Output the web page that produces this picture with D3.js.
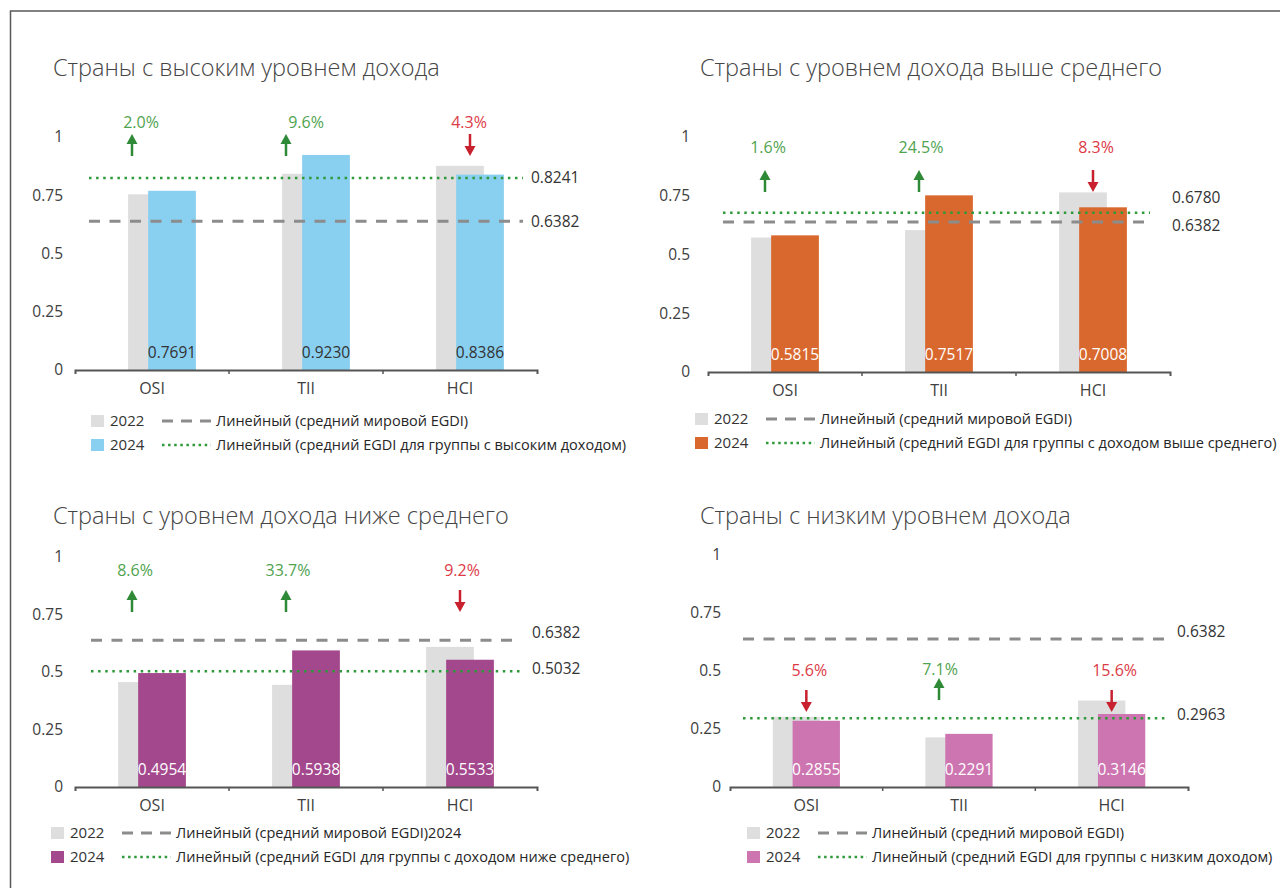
<!DOCTYPE html>
<html>
<head>
<meta charset="utf-8">
<script src="https://cdn.jsdelivr.net/npm/d3@7"></script>
<style>
  body { margin: 0; background: #fff; }
  text { font-family: "Open Sans", "Noto Sans", sans-serif; }
</style>
</head>
<body>
<div id="chart"></div>
<script>
// Data
const categories = ["OSI", "TII", "HCI"];
const yTicks = [0, 0.25, 0.5, 0.75, 1];
const years = ["2022", "2024"];

const titles = [
  "Страны с высоким уровнем дохода",
  "Страны с уровнем дохода выше среднего",
  "Страны с уровнем дохода ниже среднего",
  "Страны с низким уровнем дохода"
];

const high2022 = [0.7540, 0.8422, 0.8763];
const high2024 = [0.7691, 0.9230, 0.8386];
const upperMid2022 = [0.5723, 0.6038, 0.7642];
const upperMid2024 = [0.5815, 0.7517, 0.7008];
const lowerMid2022 = [0.4562, 0.4441, 0.6094];
const lowerMid2024 = [0.4954, 0.5938, 0.5533];
const low2022 = [0.3024, 0.2139, 0.3728];
const low2024 = [0.2855, 0.2291, 0.3146];

const highChange = [2.0, 9.6, -4.3];
const upperMidChange = [1.6, 24.5, -8.3];
const lowerMidChange = [8.6, 33.7, -9.2];
const lowChange = [-5.6, 7.1, -15.6];

const worldAvg = 0.6382;
const groupAvg = [0.8241, 0.6780, 0.5032, 0.2963];

const worldLegend = [
  "Линейный (средний мировой EGDI)",
  "Линейный (средний мировой EGDI)",
  "Линейный (средний мировой EGDI)2024",
  "Линейный (средний мировой EGDI)"
];
const groupLegend = [
  "Линейный (средний EGDI для группы с высоким доходом)",
  "Линейный (средний EGDI для группы с доходом выше среднего)",
  "Линейный (средний EGDI для группы с доходом ниже среднего)",
  "Линейный (средний EGDI для группы с низким доходом)"
];

const barColors = ["#89cff0", "#d9682f", "#a4488d", "#cd75b1"];
const gray = "#dedede";

// Panel layout (pixels)
const panels = [
  {x0: 75, x1: 537, yZero: 370, yOne: 137, titleX: 53, titleY: 76, tickPad: 12, shift: 10,
   lineStart: 89, lineEnd: 523, labelX: 531, worldDy: 0, groupDy: 0,
   pctY: [122, 122, 122], arrowTop: [134, 134, 134], textDx: [9, 20, -1],
   legendX: 91, legendY: 421, labelColor: "#333",
   v22: high2022, v24: high2024, change: highChange},
  {x0: 708, x1: 1170, yZero: 372, yOne: 137, titleX: 700, titleY: 76, tickPad: 18, shift: 0,
   lineStart: 723, lineEnd: 1150, labelX: 1172, worldDy: 4, groupDy: -15,
   pctY: [147, 147, 147], arrowTop: [170, 170, 170], textDx: [3, 2, 3],
   legendX: 695, legendY: 419, labelColor: "#fff",
   v22: upperMid2022, v24: upperMid2024, change: upperMidChange},
  {x0: 75, x1: 537, yZero: 787, yOne: 557, titleX: 53, titleY: 524, tickPad: 12, shift: 0,
   lineStart: 91, lineEnd: 521, labelX: 532, worldDy: -8, groupDy: -3,
   pctY: [570, 570, 570], arrowTop: [590, 590, 590], textDx: [3, 2, 2],
   legendX: 51, legendY: 833, labelColor: "#fff",
   v22: lowerMid2022, v24: lowerMid2024, change: lowerMidChange},
  {x0: 730, x1: 1188, yZero: 787, yOne: 555, titleX: 700, titleY: 524, tickPad: 9, shift: 0,
   lineStart: 743, lineEnd: 1166, labelX: 1177, worldDy: -7, groupDy: -4,
   pctY: [670, 669, 670], arrowTop: [690, 678, 690], textDx: [3, 1, 3],
   legendX: 747, legendY: 833, labelColor: "#fff",
   v22: low2022, v24: low2024, change: lowChange}
];

const width = 1280;
const height = 888;

const svg = d3.select("#chart").append("svg")
  .attr("width", width)
  .attr("height", height)
  .attr("viewBox", [0, 0, width, height]);

// Outer frame (only top and left edges are visible)
svg.append("path")
  .attr("d", "M10.5,890V11H1282")
  .attr("fill", "none")
  .attr("stroke", "#5a5a5a")
  .attr("stroke-width", 1.5);

panels.forEach((p, i) => {
  const g = svg.append("g");

  const x = d3.scaleBand().domain(categories).range([p.x0, p.x1]);
  const y = d3.scaleLinear().domain([0, 1]).range([p.yZero, p.yOne]);
  const bw = x.bandwidth();
  const barW = bw * 0.31;
  const center = c => x(c) + bw / 2 + p.shift;

  // Title
  g.append("text")
    .attr("x", p.titleX)
    .attr("y", p.titleY)
    .attr("font-size", 23.5)
    .attr("font-weight", 300)
    .attr("fill", "#454545")
    .text(titles[i]);

  // Y axis
  g.append("g")
    .attr("transform", `translate(${p.x0},0)`)
    .call(d3.axisLeft(y).tickValues(yTicks).tickSize(0).tickPadding(p.tickPad).tickFormat(d => String(d)))
    .call(a => a.select(".domain").remove())
    .call(a => a.selectAll("text").attr("font-size", 15.5).attr("fill", "#404040")
      .attr("font-family", null));

  // Bars: 2022 behind, 2024 in front
  g.append("g")
    .selectAll("rect")
    .data(categories)
    .join("rect")
    .attr("x", c => center(c) - bw * 0.22)
    .attr("y", (c, j) => y(p.v22[j]))
    .attr("width", barW)
    .attr("height", (c, j) => y(0) - y(p.v22[j]))
    .attr("fill", gray);

  g.append("g")
    .selectAll("rect")
    .data(categories)
    .join("rect")
    .attr("x", c => center(c) - bw * 0.09)
    .attr("y", (c, j) => y(p.v24[j]))
    .attr("width", barW)
    .attr("height", (c, j) => y(0) - y(p.v24[j]))
    .attr("fill", barColors[i]);

  // Value labels inside the 2024 bars
  g.append("g")
    .selectAll("text")
    .data(categories)
    .join("text")
    .attr("x", c => center(c) - bw * 0.09 + barW / 2)
    .attr("y", y(0) - 17)
    .attr("dy", "0.35em")
    .attr("text-anchor", "middle")
    .attr("font-size", 15.5)
    .attr("fill", p.labelColor)
    .text((c, j) => p.v24[j].toFixed(4));

  // Reference lines
  g.append("line")
    .attr("x1", p.lineStart).attr("x2", p.lineEnd)
    .attr("y1", y(worldAvg)).attr("y2", y(worldAvg))
    .attr("stroke", "#8c8c8c")
    .attr("stroke-width", 3)
    .attr("stroke-dasharray", "11 9.5");

  g.append("line")
    .attr("x1", p.lineStart).attr("x2", p.lineEnd)
    .attr("y1", y(groupAvg[i])).attr("y2", y(groupAvg[i]))
    .attr("stroke", "#2f9a3a")
    .attr("stroke-width", 2.5)
    .attr("stroke-dasharray", "2.5 4.6");

  g.append("text")
    .attr("x", p.labelX)
    .attr("y", y(worldAvg) + p.worldDy)
    .attr("dy", "0.35em")
    .attr("font-size", 15.5)
    .attr("fill", "#333")
    .text(worldAvg.toFixed(4));

  g.append("text")
    .attr("x", p.labelX)
    .attr("y", y(groupAvg[i]) + p.groupDy)
    .attr("dy", "0.35em")
    .attr("font-size", 15.5)
    .attr("fill", "#333")
    .text(groupAvg[i].toFixed(4));

  // X axis with ticks at the category boundaries
  g.append("g")
    .attr("transform", `translate(0,${p.yZero})`)
    .call(d3.axisBottom(x).tickSizeInner(0).tickSizeOuter(4).tickPadding(13))
    .call(a => a.select(".domain").attr("stroke", "#555").attr("stroke-width", 2))
    .call(a => a.selectAll("text").attr("font-size", 16).attr("fill", "#404040")
      .attr("font-family", null))
    .call(a => a.selectAll(".sep")
      .data(categories.slice(1))
      .join("line")
      .attr("class", "sep")
      .attr("x1", c => x(c)).attr("x2", c => x(c))
      .attr("y1", 0).attr("y2", 4)
      .attr("stroke", "#555")
      .attr("stroke-width", 1.5));

  // Change annotations with arrows
  const ann = g.append("g")
    .selectAll("g")
    .data(categories)
    .join("g");

  ann.each(function (c, j) {
    const ch = p.change[j];
    const up = ch > 0;
    const ax = up ? x(c) + bw / 2 - 20 : center(c);
    const top = p.arrowTop[j];
    const bottom = top + 22;
    const col = up ? "#2f8a37" : "#c8202e";
    const a = d3.select(this);

    a.append("text")
      .attr("x", ax + p.textDx[j])
      .attr("y", p.pctY[j])
      .attr("dy", "0.35em")
      .attr("text-anchor", "middle")
      .attr("font-size", 16)
      .attr("fill", up ? "#4fa34f" : "#dc3a45")
      .text(Math.abs(ch).toFixed(1) + "%");

    if (up) {
      a.append("line")
        .attr("x1", ax).attr("x2", ax)
        .attr("y1", top + 8).attr("y2", bottom)
        .attr("stroke", col).attr("stroke-width", 2.5);
      a.append("path")
        .attr("d", `M${ax},${top}L${ax + 5.5},${top + 10}L${ax - 5.5},${top + 10}Z`)
        .attr("fill", col);
    } else {
      a.append("line")
        .attr("x1", ax).attr("x2", ax)
        .attr("y1", top).attr("y2", bottom - 8)
        .attr("stroke", col).attr("stroke-width", 2.5);
      a.append("path")
        .attr("d", `M${ax},${bottom}L${ax + 5.5},${bottom - 10}L${ax - 5.5},${bottom - 10}Z`)
        .attr("fill", col);
    }
  });

  // Legend
  const lg = g.append("g");
  const rows = [
    {fill: gray, year: years[0], label: worldLegend[i], stroke: "#8c8c8c", dash: "11 8", sw: 3},
    {fill: barColors[i], year: years[1], label: groupLegend[i], stroke: "#2f9a3a", dash: "2.5 3.6", sw: 2.5}
  ];
  rows.forEach((r, k) => {
    const ry = p.legendY + k * 24;
    lg.append("rect")
      .attr("x", p.legendX).attr("y", ry - 6)
      .attr("width", 13).attr("height", 12)
      .attr("fill", r.fill);
    lg.append("text")
      .attr("x", p.legendX + 19).attr("y", ry)
      .attr("dy", "0.35em")
      .attr("font-size", 15)
      .attr("fill", "#333")
      .text(r.year);
    lg.append("line")
      .attr("x1", p.legendX + 71).attr("x2", p.legendX + 120)
      .attr("y1", ry).attr("y2", ry)
      .attr("stroke", r.stroke)
      .attr("stroke-width", r.sw)
      .attr("stroke-dasharray", r.dash);
    lg.append("text")
      .attr("x", p.legendX + 125).attr("y", ry)
      .attr("dy", "0.35em")
      .attr("font-size", 14.5)
      .attr("fill", "#262626")
      .text(r.label);
  });
});
</script>
</body>
</html>
